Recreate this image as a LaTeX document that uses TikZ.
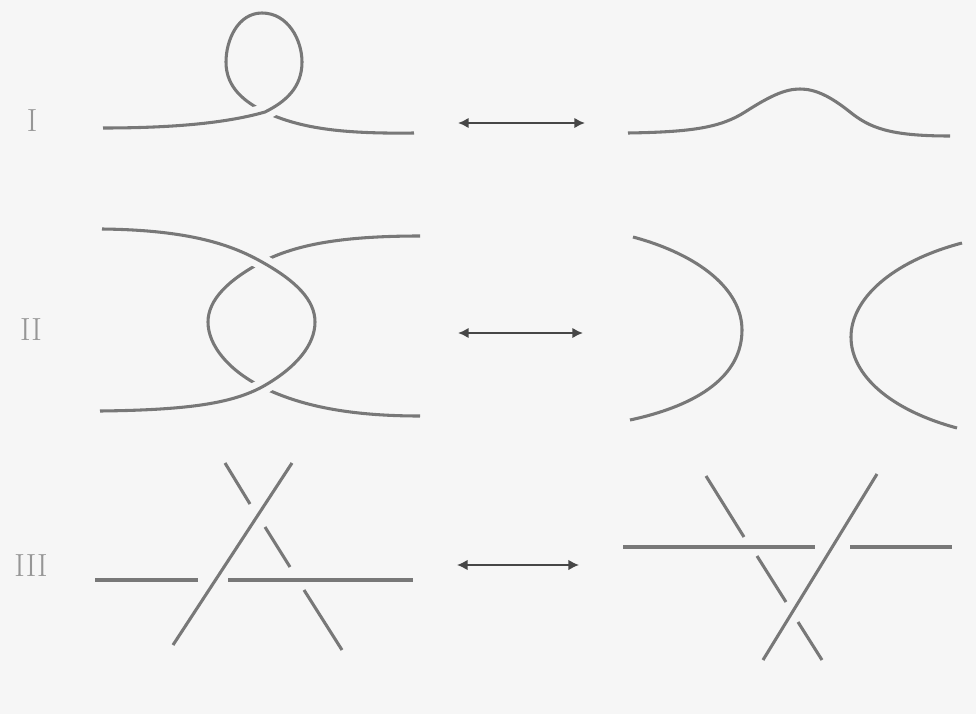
\documentclass[tikz,border=0pt]{standalone}
\usetikzlibrary{arrows.meta}
\definecolor{bg}{RGB}{246,246,246}
\definecolor{strandc}{RGB}{120,120,120}
\definecolor{arrc}{RGB}{70,70,70}
\definecolor{labc}{RGB}{150,150,150}
\begin{document}
\begin{tikzpicture}[x=0.75pt,y=-0.75pt,
  strand/.style={draw=strandc, line width=2.3pt},
  over/.style={preaction={draw=bg, line width=12pt}},
  move/.style={draw=arrc, line width=1.8pt, {Latex[length=8pt,width=8pt]}-{Latex[length=8pt,width=8pt]}},
  lab/.style={text=labc, font=\fontsize{24}{24}\selectfont, inner sep=0pt}]
\fill[bg] (0,0) rectangle (976,714);
\useasboundingbox (0,0) rectangle (976,714);

% labels
\node[lab] (l1) at (32,121) {I};
\node[lab] (l2) at (31,330) {II};
\node[lab] (l3) at (31,566) {III};

% arrows
\coordinate (a1l) at (458,123); \coordinate (a1r) at (585,123);
\coordinate (a2l) at (458,333); \coordinate (a2r) at (583,333);
\coordinate (a3l) at (457,565); \coordinate (a3r) at (579,565);
\draw[move] (a1l) -- (a1r);
\draw[move] (a2l) -- (a2r);
\draw[move, line width=1.3pt] (a3l) -- (a3r);

% ---- Row I, left: kink
\draw[strand] (262,13) .. controls (238,13) and (226,40) .. (226,62)
  .. controls (226,88) and (245,102) .. (265,112)
  .. controls (300,128) and (340,134) .. (414,133);
\draw[strand, over] (103,128) .. controls (180,128) and (230,122) .. (265,112)
  .. controls (285,102) and (302,88) .. (302,62)
  .. controls (302,40) and (288,13) .. (262,13);

% ---- Row I, right: bump
\draw[strand] (628,133) .. controls (690,132) and (720,128) .. (745,112)
  .. controls (770,96) and (785,89) .. (800,89)
  .. controls (815,89) and (830,96) .. (850,112)
  .. controls (870,128) and (890,136) .. (950,136);

% ---- Row II, left
\draw[strand] (420,236) .. controls (340,236) and (295,245) .. (262,262)
  .. controls (228,280) and (208,300) .. (208,322)
  .. controls (208,345) and (228,370) .. (262,387)
  .. controls (295,403) and (340,416) .. (420,416);
\draw[strand, over] (102,229) .. controls (190,230) and (232,245) .. (262,262)
  .. controls (296,281) and (315,300) .. (315,322)
  .. controls (315,345) and (296,368) .. (262,387)
  .. controls (232,403) and (190,410) .. (100,411);

% ---- Row II, right
\draw[strand] (633,237) .. controls (700,255) and (742,290) .. (742,330)
  .. controls (742,375) and (700,405) .. (630,420);
\draw[strand] (962,243) .. controls (890,262) and (851,300) .. (851,337)
  .. controls (851,375) and (890,410) .. (957,428);

% ---- Row III, left
\draw[strand] (95,580) -- (198,580);
\draw[strand] (228,580) -- (413,580);
\draw[strand] (173,645) -- (292,463);
\draw[strand] (225,463) -- (250,504);
\draw[strand] (265,527) -- (290,567);
\draw[strand] (304,590) -- (342,650);

% ---- Row III, right
\draw[strand] (623,547) -- (815,547);
\draw[strand] (850,547) -- (952,547);
\draw[strand] (763,660) -- (877,474);
\draw[strand] (706,476) -- (744,537);
\draw[strand] (757,556) -- (786,602);
\draw[strand] (798,622) -- (822,660);
\end{tikzpicture}
\end{document}
